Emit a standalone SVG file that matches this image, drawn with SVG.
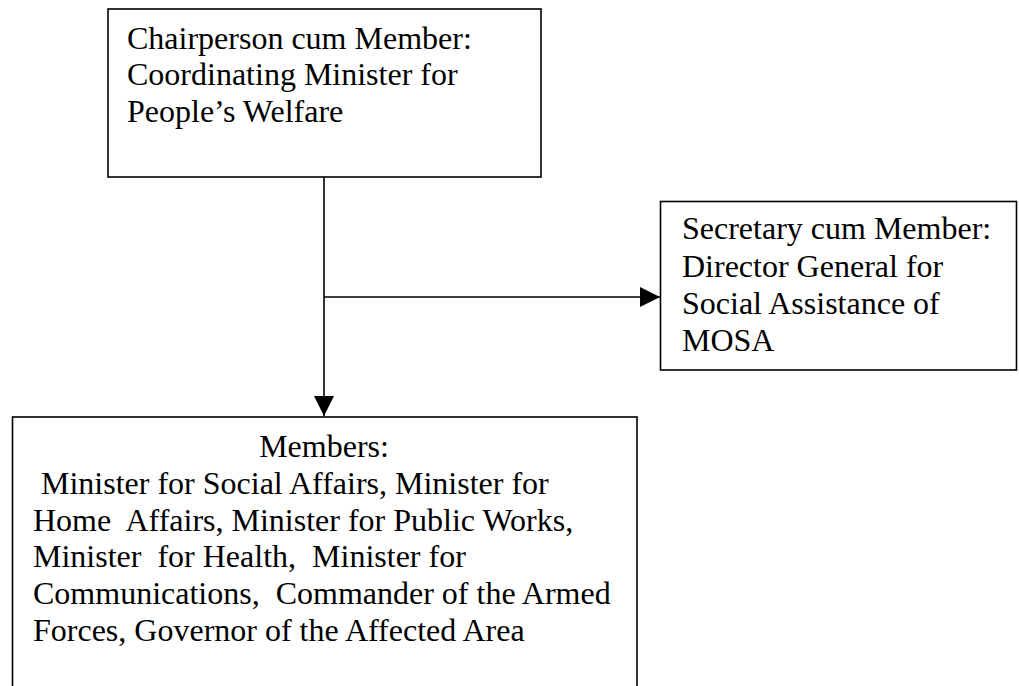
<svg xmlns="http://www.w3.org/2000/svg" width="1019" height="686" viewBox="0 0 1019 686">
  <style>
    .box { fill: #ffffff; stroke: #000000; stroke-width: 1.6; }
    .label { font-family: "Liberation Serif", "Times New Roman", serif; font-size: 32px; fill: #000000; }
    .wire { fill: none; stroke: #000000; stroke-width: 1.6; }
  </style>
  <defs>
    <marker id="head" viewBox="0 0 20 20" refX="20" refY="10" markerWidth="20" markerHeight="20" markerUnits="userSpaceOnUse" orient="auto">
      <path d="M0,0 L20,10 L0,20 Z" fill="#000000"/>
    </marker>
  </defs>
  <rect width="1019" height="686" fill="#ffffff"/>

  <g id="chairperson">
    <rect class="box" x="108" y="9" width="433" height="168"/>
    <text class="label" x="127" y="48.5">Chairperson cum Member:</text>
    <text class="label" x="127" y="85">Coordinating Minister for</text>
    <text class="label" x="127" y="122">People’s Welfare</text>
  </g>

  <g id="secretary">
    <rect class="box" x="660.5" y="201.5" width="356" height="168.5"/>
    <text class="label" x="682" y="239">Secretary cum Member:</text>
    <text class="label" x="682" y="276.5">Director General for</text>
    <text class="label" x="682" y="314">Social Assistance of</text>
    <text class="label" x="682" y="351">MOSA</text>
  </g>

  <g id="members">
    <rect class="box" x="12.5" y="417" width="624.5" height="300"/>
    <text class="label" x="324" y="457" text-anchor="middle">Members:</text>
    <text class="label" xml:space="preserve" x="33" y="494"> Minister for Social Affairs, Minister for</text>
    <text class="label" xml:space="preserve" x="33" y="530.5">Home  Affairs, Minister for Public Works,</text>
    <text class="label" xml:space="preserve" x="33" y="567">Minister  for Health,  Minister for</text>
    <text class="label" xml:space="preserve" x="33" y="604">Communications,  Commander of the Armed</text>
    <text class="label" xml:space="preserve" x="33" y="640.5">Forces, Governor of the Affected Area</text>
  </g>

  <g id="connectors">
    <line class="wire" x1="324" y1="177" x2="324" y2="416" marker-end="url(#head)"/>
    <line class="wire" x1="324" y1="297" x2="660" y2="297" marker-end="url(#head)"/>
  </g>
</svg>
